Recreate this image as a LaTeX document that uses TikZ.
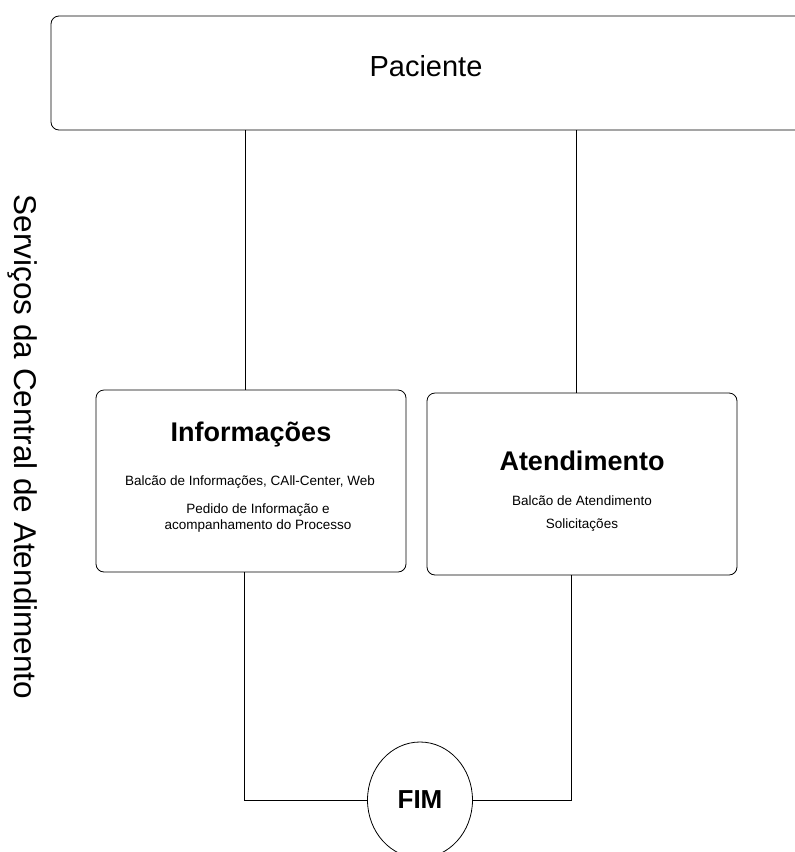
\documentclass[tikz,border=0pt]{standalone}
\usepackage{fontspec}
\setmainfont{Liberation Sans}
\usetikzlibrary{shapes.geometric}
\begin{document}
\begin{tikzpicture}[x=1pt,y=-1pt,
  box/.style={draw, rounded corners=8pt, line width=0.8pt, inner sep=0pt},
  conn/.style={draw, line width=0.8pt},
  bigtitle/.style={font=\fontsize{29}{35}\selectfont},
  boxtitle/.style={font=\bfseries\fontsize{27}{32}\selectfont},
  small/.style={font=\fontsize{13.5}{16.5}\selectfont, align=center}]
\useasboundingbox (0,0) rectangle (795,852);
\clip (0,0) rectangle (795,852);
% top box
\node[box, minimum width=770pt, minimum height=114pt] (pac) at (436,73) {};
\node[bigtitle] (pactxt) at (426,66) {Paciente};
% side label
\node[rotate=-90, font=\fontsize{31.5}{36}\selectfont] (side) at (23,447) {Serviços da Central de Atendimento};
% boxes
\node[box, minimum width=310pt, minimum height=182pt] (info) at (251,481) {};
\node[box, minimum width=310pt, minimum height=182pt] (aten) at (582,484) {};
\node[boxtitle] (infot) at (251,435) {Informações};
\node[small] (infol1) at (250,482) {Balcão de Informações, CAll-Center, Web};
\node[small] (infol2) at (258,518) {Pedido de Informação e\\ acompanhamento do Processo};
\node[boxtitle] (atent) at (582,461) {Atendimento};
\node[small] (atenl1) at (582,501) {Balcão de Atendimento};
\node[small] (atenl2) at (582,525) {Solicitações};
% end
\node[draw, ellipse, minimum width=105pt, minimum height=116pt, inner sep=0pt, line width=0.8pt,
  font=\bfseries\fontsize{26}{30}\selectfont] (fim) at (420,800) {FIM};
% connectors
\coordinate (cL) at (245,0);
\coordinate (cR) at (576,0);
\coordinate (bL) at (244,800);
\coordinate (bR) at (571,800);
\draw[conn] (pac.south -| cL) -- (info.north -| cL);
\draw[conn] (pac.south -| cR) -- (aten.north -| cR);
\draw[conn] (info.south -| bL) -- (bL) -- (fim.west);
\draw[conn] (aten.south -| bR) -- (bR) -- (fim.east);
\end{tikzpicture}
\end{document}
